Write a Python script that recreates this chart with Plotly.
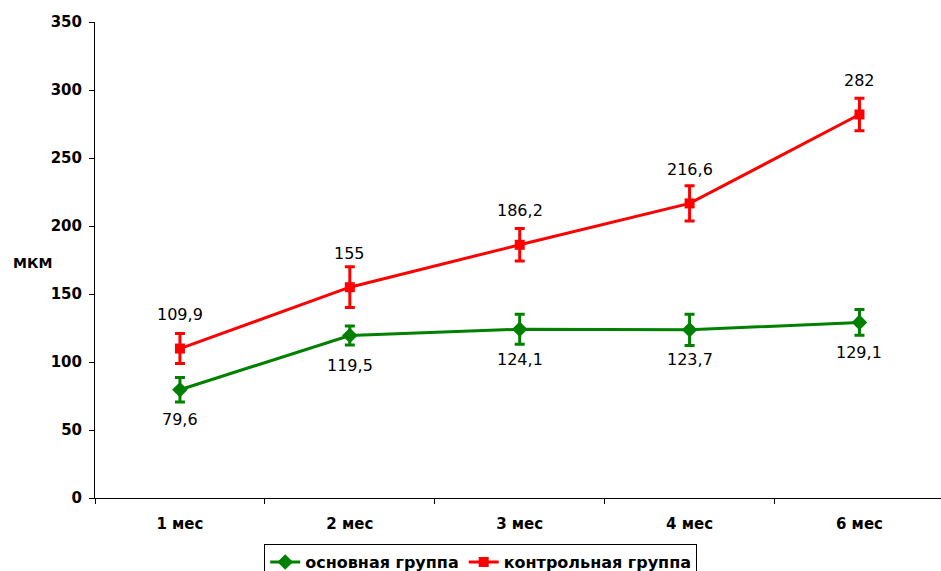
import plotly.graph_objects as go

months = ["1 мес", "2 мес", "3 мес", "4 мес", "6 мес"]
main_vals = [79.6, 119.5, 124.1, 123.7, 129.1]
main_err = [9, 7, 11, 11.5, 9.5]
ctrl_vals = [109.9, 155, 186.2, 216.6, 282]
ctrl_err = [11, 15, 12, 13, 12]
y_ticks = [0, 50, 100, 150, 200, 250, 300, 350]

GREEN = "#008000"
RED = "#FF0000"
FONT = "DejaVu Sans, Arial, sans-serif"


def fmt(v):
    s = f"{v:g}"
    return s.replace(".", ",")


fig = go.Figure()
fig.add_trace(go.Scatter(
    x=months, y=main_vals, name="основная группа", mode="lines+markers",
    line=dict(color=GREEN, width=3),
    marker=dict(symbol="diamond", size=12, color=GREEN),
    error_y=dict(type="data", array=main_err, color=GREEN, thickness=3, width=5),
))
fig.add_trace(go.Scatter(
    x=months, y=ctrl_vals, name="контрольная группа", mode="lines+markers",
    line=dict(color=RED, width=3),
    marker=dict(symbol="square", size=10, color=RED),
    error_y=dict(type="data", array=ctrl_err, color=RED, thickness=3, width=5),
))

# value labels: control group above its points, main group below
for m, v in zip(months, ctrl_vals):
    fig.add_annotation(x=m, y=v, text=fmt(v), showarrow=False, yshift=34,
                       font=dict(family=FONT, size=16, color="black"))
for m, v in zip(months, main_vals):
    fig.add_annotation(x=m, y=v, text=fmt(v), showarrow=False, yshift=-30,
                       font=dict(family=FONT, size=16, color="black"))

fig.add_annotation(x=0.0, xref="paper", xanchor="center", xshift=-63,
                   y=173, yref="y", text="МКМ", showarrow=False,
                   font=dict(family=FONT, size=14, color="black", weight="bold"))

fig.update_layout(
    width=941, height=571,
    margin=dict(l=95, r=0, t=22, b=73, autoexpand=False),
    paper_bgcolor="white", plot_bgcolor="white",
    showlegend=True,
    legend=dict(orientation="h", x=0.2, xanchor="left", y=-0.097, yanchor="top",
                bordercolor="black", borderwidth=1, bgcolor="white",
                font=dict(family=FONT, size=16, color="black", weight="bold"),
                itemwidth=30, tracegroupgap=0),
    xaxis=dict(type="category", range=[-0.5, 4.48], showline=True, linecolor="black",
               linewidth=1, ticks="outside", ticklen=5, tickcolor="black",
               tickson="boundaries", showgrid=False, zeroline=False,
               ticklabelstandoff=12,
               tickfont=dict(family=FONT, size=15, color="black", weight="bold")),
    yaxis=dict(range=[0, 350], tickvals=y_ticks, showline=True, linecolor="black",
               linewidth=1, ticks="outside", ticklen=5, tickcolor="black",
               showgrid=False, zeroline=False, ticklabelstandoff=4,
               tickfont=dict(family=FONT, size=15, color="black", weight="bold")),
)

fig.write_html("out.html")
